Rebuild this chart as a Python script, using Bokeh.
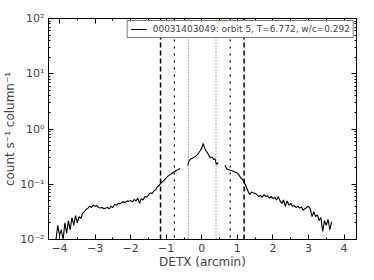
from bokeh.plotting import figure
from bokeh.models import (Span, LinearAxis, LogAxis, SingleIntervalTicker, LogTicker,
                          CustomJSTickFormatter, Legend, LegendItem)
from bokeh.embed import file_html
from bokeh.resources import INLINE

# ---- data ----
left_x = [-4.10, -4.05, -4.00, -3.95, -3.90, -3.85, -3.80, -3.75, -3.70, -3.65,
          -3.60, -3.55, -3.50, -3.45, -3.40, -3.35, -3.30, -3.25, -3.20, -3.15,
          -3.10, -3.05, -3.00, -2.95, -2.90, -2.85, -2.80, -2.75, -2.70, -2.65,
          -2.60, -2.55, -2.50, -2.45, -2.40, -2.35, -2.30, -2.25, -2.20, -2.15,
          -2.10, -2.05, -2.00, -1.95, -1.90, -1.85, -1.80, -1.75, -1.70, -1.65,
          -1.60, -1.55, -1.50, -1.45, -1.40, -1.35, -1.30, -1.25, -1.20, -1.15,
          -1.10, -1.05, -1.00, -0.95, -0.90, -0.85, -0.80, -0.75, -0.70, -0.65, -0.62]
left_y = [0.010, 0.018, 0.012, 0.015, 0.010, 0.020, 0.013, 0.022, 0.015, 0.025,
          0.018, 0.027, 0.020, 0.026, 0.024, 0.030, 0.032, 0.035, 0.037, 0.040,
          0.038, 0.042, 0.040, 0.041, 0.038, 0.037, 0.038, 0.036, 0.037, 0.038,
          0.036, 0.040, 0.038, 0.043, 0.042, 0.045, 0.044, 0.047, 0.048, 0.047,
          0.050, 0.049, 0.051, 0.048, 0.053, 0.050, 0.056, 0.045, 0.055, 0.052,
          0.060, 0.058, 0.064, 0.070, 0.068, 0.075, 0.080, 0.090, 0.095, 0.105,
          0.112, 0.120, 0.130, 0.140, 0.148, 0.155, 0.165, 0.170, 0.180, 0.185, 0.195]
mid_x = [-0.40, -0.35, -0.30, -0.25, -0.20, -0.15, -0.10, -0.05, 0.00, 0.04,
         0.08, 0.12, 0.16, 0.20, 0.25, 0.30, 0.33, 0.37, 0.40, 0.43, 0.46]
mid_y = [0.22, 0.27, 0.29, 0.30, 0.31, 0.33, 0.36, 0.40, 0.45, 0.55,
         0.45, 0.40, 0.37, 0.33, 0.30, 0.31, 0.28, 0.29, 0.24, 0.23, 0.25]
right_x = [0.65, 0.70, 0.75, 0.80, 0.85, 0.90, 0.95, 1.00, 1.05, 1.10,
           1.15, 1.20, 1.25, 1.30, 1.35, 1.40, 1.45, 1.50, 1.55, 1.60,
           1.65, 1.70, 1.75, 1.80, 1.85, 1.90, 1.95, 2.00, 2.05, 2.10,
           2.15, 2.20, 2.25, 2.30, 2.35, 2.40, 2.45, 2.50, 2.55, 2.60,
           2.65, 2.70, 2.75, 2.80, 2.85, 2.90, 2.95, 3.00, 3.05, 3.10,
           3.15, 3.20, 3.25, 3.30, 3.35, 3.40, 3.45, 3.50, 3.55, 3.60, 3.65]
right_y = [0.22, 0.19, 0.185, 0.18, 0.175, 0.17, 0.165, 0.16, 0.145, 0.13,
           0.12, 0.105, 0.09, 0.075, 0.065, 0.072, 0.070, 0.068, 0.065, 0.060,
           0.063, 0.058, 0.065, 0.060, 0.062, 0.056, 0.060, 0.055, 0.058, 0.052,
           0.060, 0.050, 0.045, 0.052, 0.040, 0.050, 0.042, 0.045, 0.040, 0.041,
           0.038, 0.040, 0.037, 0.039, 0.034, 0.036, 0.038, 0.040, 0.036, 0.026,
           0.032, 0.026, 0.028, 0.022, 0.025, 0.014, 0.022, 0.018, 0.023, 0.015, 0.021]
outer_lines = [-1.16, 1.19]
mid_lines = [-0.77, 0.80]
inner_lines = [-0.375, 0.40]
legend_label = "00031403049: orbit 5, T=6.772, w/c=0.292"
x_label = "DETX (arcmin)"
y_label = "count s\u207b\u00b9 column\u207b\u00b9"

FONT = "DejaVu Sans"

p = figure(width=358, height=272, x_range=(-4.31, 4.35), y_range=(0.01, 100),
           y_axis_type="log", output_backend="svg", toolbar_location=None,
           min_border_left=48, min_border_right=2, min_border_top=18, min_border_bottom=33)
p.grid.visible = False
p.outline_line_color = "black"
p.outline_line_width = 1
p.background_fill_color = "white"
p.border_fill_color = "white"

xfmt = CustomJSTickFormatter(code="""
    return tick < 0 ? '\u2212' + Math.abs(tick) : String(tick);
""")
yfmt = CustomJSTickFormatter(code="""
    const sup = {'-':'\u207b','0':'\u2070','1':'\u00b9','2':'\u00b2','3':'\u00b3','4':'\u2074','5':'\u2075','6':'\u2076','7':'\u2077','8':'\u2078','9':'\u2079'};
    const e = Math.round(Math.log10(tick));
    return '10' + String(e).split('').map(c => sup[c]).join('');
""")
blank = CustomJSTickFormatter(code="return '';")

def style_axis(ax):
    ax.major_tick_in = 5
    ax.major_tick_out = 0
    ax.minor_tick_in = 2
    ax.minor_tick_out = 0
    ax.axis_line_color = None
    ax.major_tick_line_color = "black"
    ax.minor_tick_line_color = "black"
    ax.major_label_text_font = FONT
    ax.major_label_text_font_size = "11px"
    ax.axis_label_text_font = FONT
    ax.axis_label_text_font_size = "12px"
    ax.axis_label_text_font_style = "normal"

xb = p.xaxis[0]
xb.ticker = SingleIntervalTicker(interval=1, num_minor_ticks=2)
xb.formatter = xfmt
xb.axis_label = x_label
xb.axis_label_standoff = 0
xb.major_label_standoff = 4
style_axis(xb)

yl = p.yaxis[0]
yl.ticker = LogTicker(num_minor_ticks=10)
yl.formatter = yfmt
yl.axis_label = y_label
yl.axis_label_standoff = 0
yl.major_label_standoff = 4
style_axis(yl)

# top / right tick-only axes
xt = LinearAxis(ticker=SingleIntervalTicker(interval=1, num_minor_ticks=2), formatter=blank)
style_axis(xt)
xt.major_label_standoff = 0
p.add_layout(xt, "above")
yr = LogAxis(ticker=LogTicker(num_minor_ticks=10), formatter=blank)
style_axis(yr)
yr.major_label_standoff = 0
p.add_layout(yr, "right")

for v in outer_lines:
    p.add_layout(Span(location=v, dimension="height", line_color="black",
                      line_width=1.5, line_dash="5 3"))
for v in mid_lines:
    p.add_layout(Span(location=v, dimension="height", line_color="black",
                      line_width=1.2, line_dash="2 5"))
for v in inner_lines:
    p.add_layout(Span(location=v, dimension="height", line_color="black",
                      line_width=0.6, line_dash="1 2"))

r1 = p.line(left_x, left_y, line_color="black", line_width=1.1)
p.line(mid_x, mid_y, line_color="black", line_width=1.1)
p.line(right_x, right_y, line_color="black", line_width=1.1)

legend = Legend(items=[LegendItem(label=legend_label, renderers=[r1])],
                location="top_right", margin=2, padding=3,
                label_text_font=FONT, label_text_font_size="9px",
                label_height=10, glyph_height=10, glyph_width=16,
                border_line_color="black", border_line_width=1,
                background_fill_alpha=1.0, spacing=0, label_standoff=6)
p.add_layout(legend)

open("out.html", "w").write(file_html(p, INLINE))
